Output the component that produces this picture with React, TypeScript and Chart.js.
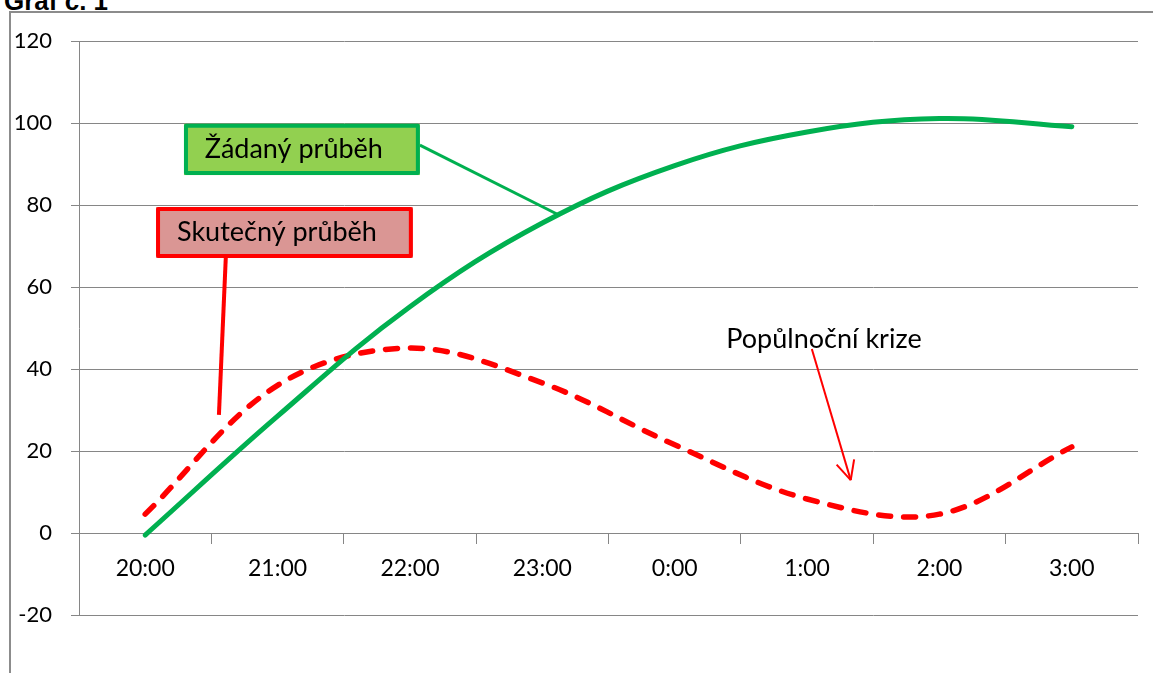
import React, { useEffect, useRef } from "react";
import { Chart, registerables } from "chart.js";

Chart.register(...registerables);

const categories = ["20:00", "21:00", "22:00", "23:00", "0:00", "1:00", "2:00", "3:00"];
const targetValues = [-0.5, 28.5, 55.2, 75.6, 89.6, 97.8, 101.1, 99.1];
const actualValues = [4.6, 36, 45.1, 36.6, 21.5, 8.3, 4.6, 21];
const yMin = -20;
const yMax = 120;
const yStep = 20;

const targetLabel = "Žádaný průběh";
const actualLabel = "Skutečný průběh";
const crisisLabel = "Popůlnoční krize";
const titleText = "Graf č. 1";

const FONT = "Lato, 'Open Sans', sans-serif";

const annotationPlugin = {
  id: "annotations",
  afterDatasetsDraw(chart: any) {
    const { ctx } = chart;
    const xs = chart.scales.x;
    const ys = chart.scales.y;
    const X = (i: number) => xs.getPixelForValue(i);
    const Y = (v: number) => ys.getPixelForValue(v);
    const line = (x1: number, y1: number, x2: number, y2: number) => {
      ctx.beginPath();
      ctx.moveTo(x1, y1);
      ctx.lineTo(x2, y2);
      ctx.stroke();
    };
    const box = (l: number, t: number, r: number, b: number, fill: string, stroke: string) => {
      ctx.fillStyle = fill;
      ctx.fillRect(l, t, r - l, b - t);
      ctx.strokeStyle = stroke;
      ctx.lineWidth = 4;
      ctx.lineJoin = "round";
      ctx.strokeRect(l + 2, t + 2, r - l - 4, b - t - 4);
    };
    ctx.save();
    ctx.lineCap = "butt";

    // green callout
    ctx.strokeStyle = "#00B050";
    ctx.lineWidth = 3;
    line(X(2.075), Y(94.6), X(3.11), Y(77.8));
    box(X(0.293), Y(99.8), X(2.075), Y(87.3), "#92D050", "#00B050");

    // red callout
    ctx.strokeStyle = "#FF0000";
    ctx.lineWidth = 4;
    line(X(0.61), Y(68), X(0.557), Y(28.8));
    box(X(0.082), Y(79.5), X(2.022), Y(67.1), "#DA9694", "#FF0000");

    ctx.fillStyle = "#000000";
    ctx.textBaseline = "middle";
    ctx.textAlign = "left";
    ctx.font = `27px ${FONT}`;
    ctx.fillText(targetLabel, X(0.45), Y(93.6));
    ctx.fillText(actualLabel, X(0.24), Y(73.3));
    ctx.fillText(crisisLabel, X(4.39), Y(47.3));

    // arrow
    ctx.strokeStyle = "#FF0000";
    ctx.lineWidth = 2;
    const ax1 = X(5.036), ay1 = Y(44.9), ax2 = X(5.33), ay2 = Y(12.9);
    line(ax1, ay1, ax2, ay2);
    const ang = Math.atan2(ay1 - ay2, ax1 - ax2);
    const head = 21;
    const spread = 0.45;
    line(ax2, ay2, ax2 + head * Math.cos(ang - spread), ay2 + head * Math.sin(ang - spread));
    line(ax2, ay2, ax2 + head * Math.cos(ang + spread), ay2 + head * Math.sin(ang + spread));
    ctx.restore();
  },
};

export default function App() {
  const canvasRef = useRef<HTMLCanvasElement | null>(null);

  useEffect(() => {
    if (!canvasRef.current) return;
    const chart = new Chart(canvasRef.current, {
      type: "line",
      data: {
        labels: categories,
        datasets: [
          {
            label: targetLabel,
            data: targetValues,
            borderColor: "#00B050",
            borderWidth: 5,
            pointRadius: 0,
            tension: 0.38,
            borderCapStyle: "round",
            fill: false,
          },
          {
            label: actualLabel,
            data: actualValues,
            borderColor: "#FF0000",
            borderWidth: 5.5,
            borderDash: [12, 13],
            borderCapStyle: "round",
            pointRadius: 0,
            tension: 0.35,
            fill: false,
          },
        ],
      },
      options: {
        animation: false,
        responsive: true,
        maintainAspectRatio: false,
        layout: { padding: { left: 0, top: 41, right: 15, bottom: 58 } },
        plugins: {
          legend: { display: false },
          tooltip: { enabled: false },
          title: { display: false },
        },
        scales: {
          x: {
            type: "category",
            position: { y: 0 } as any,
            offset: true,
            grid: {
              offset: true,
              drawOnChartArea: false,
              drawTicks: true,
              tickLength: 10,
              color: "#868686",
              lineWidth: 1,
            },
            border: { display: true, color: "#868686", width: 1 },
            ticks: {
              color: "#000000",
              font: { family: FONT, size: 23 },
              padding: 12,
              maxRotation: 0,
              autoSkip: false,
            },
          },
          y: {
            min: yMin,
            max: yMax,
            grid: {
              color: "#868686",
              lineWidth: 1,
              drawTicks: true,
              tickLength: 8,
            },
            border: { display: true, color: "#868686", width: 1 },
            ticks: {
              stepSize: yStep,
              color: "#000000",
              font: { family: FONT, size: 22 },
              padding: 19,
            },
            afterFit: (scale: any) => {
              scale.width = 79;
            },
          },
        },
      },
      plugins: [annotationPlugin],
    });
    return () => chart.destroy();
  }, []);

  return (
    <div
      style={{
        position: "fixed",
        left: 0,
        top: 0,
        width: 1153,
        height: 673,
        background: "#ffffff",
        overflow: "hidden",
      }}
    >
      <div
        style={{
          position: "absolute",
          left: 4,
          top: -14,
          font: "bold 26px 'Liberation Sans', Arial, sans-serif",
          color: "#000",
          whiteSpace: "nowrap",
          lineHeight: "normal",
        }}
      >
        {titleText}
      </div>
      <div
        style={{
          position: "absolute",
          left: 9,
          top: 11,
          width: 1200,
          height: 700,
          borderLeft: "2px solid #8c8c8c",
          borderTop: "2px solid #8c8c8c",
        }}
      />
      <div style={{ position: "absolute", left: 0, top: 0, width: 1153, height: 673 }}>
        <canvas ref={canvasRef} />
      </div>
    </div>
  );
}
